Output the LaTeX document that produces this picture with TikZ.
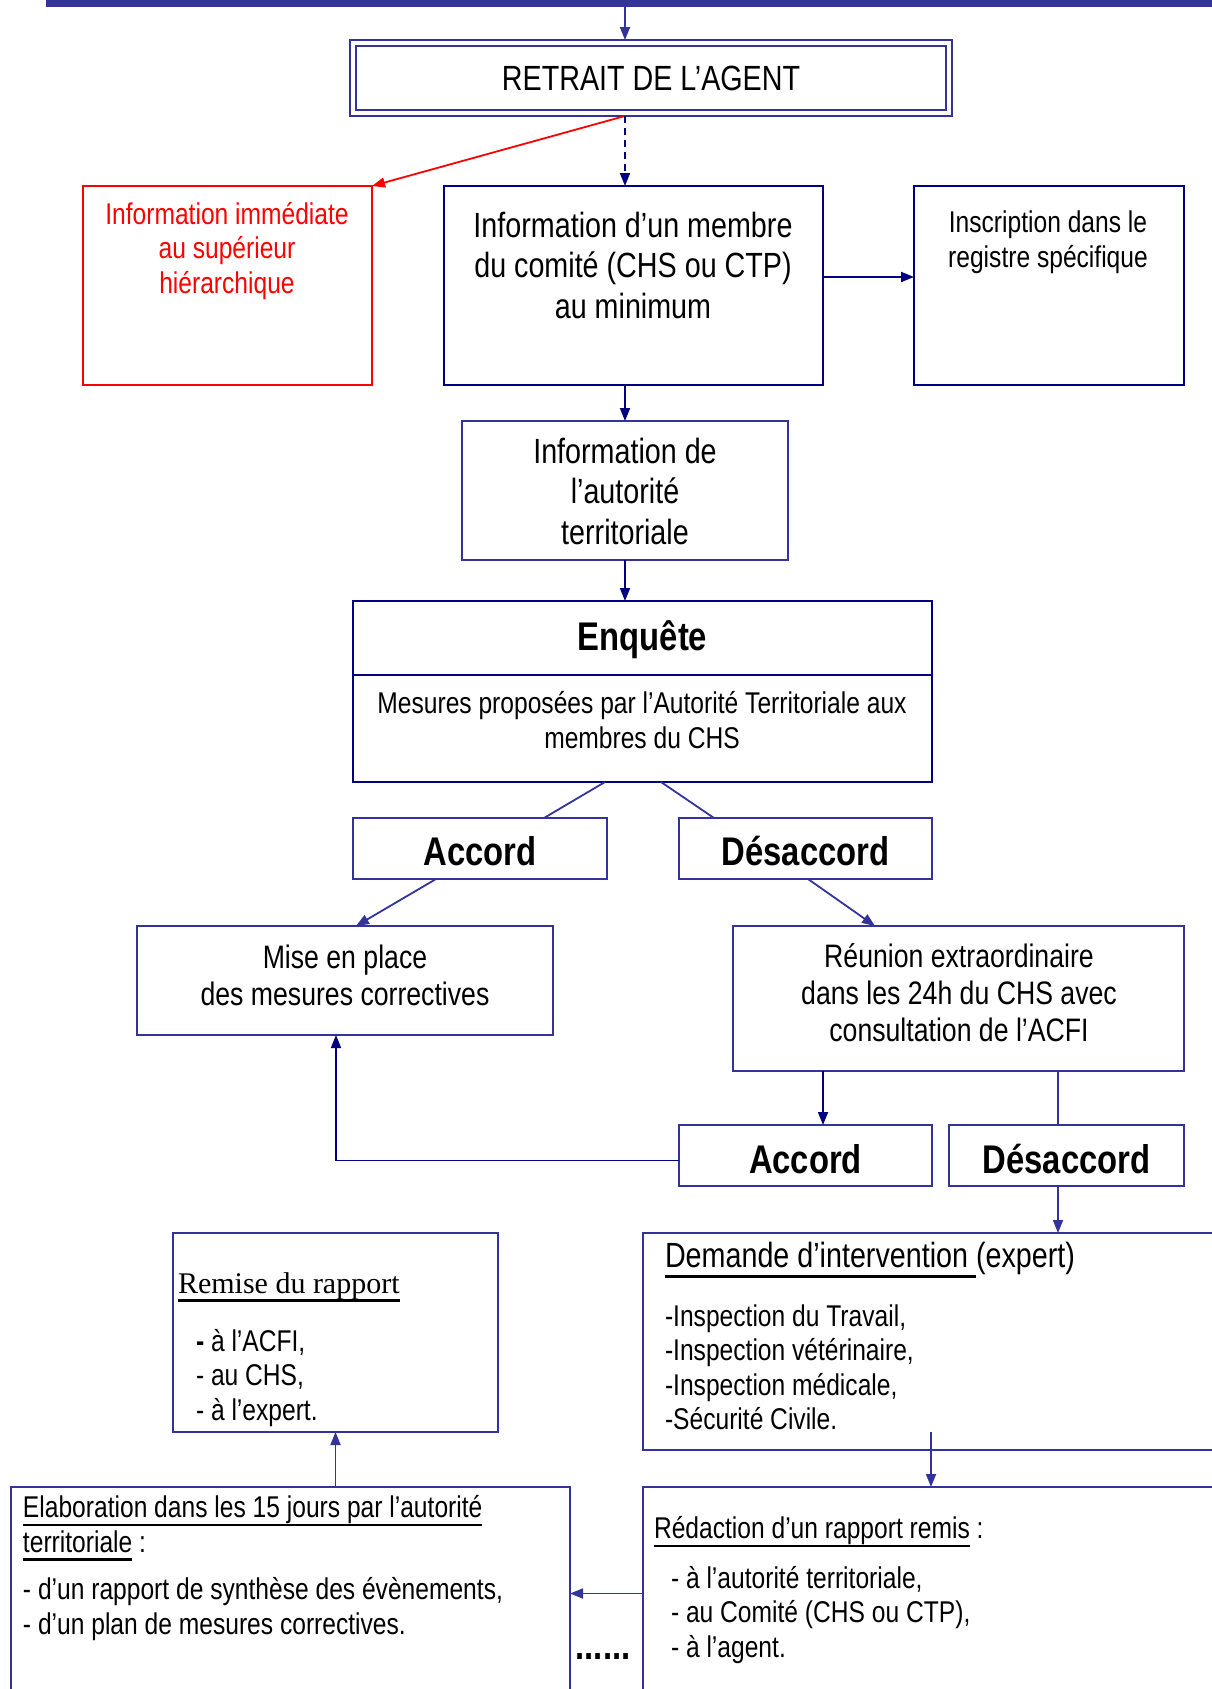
\documentclass[tikz,border=0pt]{standalone}
\usepackage{fontspec}
\setmainfont{Liberation Sans}[FakeStretch=0.82]
\newfontfamily\timesf{Liberation Serif}
\usetikzlibrary{arrows.meta,calc}
\definecolor{blueA}{RGB}{51,51,153}
\definecolor{blueB}{RGB}{0,0,128}
\definecolor{redA}{RGB}{255,0,0}
\newcommand\fsA{\fontsize{30}{34.5}\selectfont}
\newcommand\fsB{\fontsize{35}{40.5}\selectfont}
\newcommand\fsC{\fontsize{32.5}{37}\selectfont}
\newcommand\fsD{\fontsize{40}{46}\selectfont\bfseries}
\newcommand\fsT{\timesf\fontsize{30}{34.5}\selectfont}
\newlength\ulwd
\newcommand\myul[1]{\settowidth\ulwd{#1}\rlap{\rule[-0.28em]{\ulwd}{0.075em}}#1}
\begin{document}
\begin{tikzpicture}[x=1pt,y=-1pt,
  box/.style={draw=blueA,line width=2pt,inner sep=0pt,outer sep=0pt,rectangle},
  boxB/.style={box,draw=blueB},
  boxR/.style={box,draw=redA},
  txt/.style={inner sep=0pt,outer sep=0pt,align=center},
  ltxt/.style={inner sep=0pt,outer sep=0pt,align=left,anchor=west},
  tip/.style={-{Triangle[length=13pt,width=10pt]}},
  conA/.style={draw=blueA,line width=1.8pt},
  conB/.style={draw=blueB,line width=1.8pt},
  arrA/.style={conA,tip},
  arrB/.style={conB,tip}
]
\useasboundingbox (0,0) rectangle (1212,1689);
% top bar
\node[fill=blueA,inner sep=0pt,outer sep=0pt,minimum width=1166pt,minimum height=7pt] (bar) at (629,3.5) {};
\coordinate (ax) at (625,0);
% retrait
\node[box,line width=2.5pt,minimum width=602pt,minimum height=76pt] (retrait) at (651,78) {};
\node[box,line width=1.5pt,minimum width=590pt,minimum height=64pt,font=\fsB] (retraitin) at (651,78) {RETRAIT DE L’AGENT};
% row 2
\node[boxR,minimum width=289pt,minimum height=199pt] (red) at (227.5,285.5) {};
\node[txt,text=redA,font=\fsA] (tred) at (227,251) {Information immédiate\\au supérieur\\hiérarchique};
\node[boxB,minimum width=379pt,minimum height=199pt] (cbox) at (633.5,285.5) {};
\node[txt,font=\fsB] (tcbox) at (633,265) {Information d’un membre\\du comité (CHS ou CTP)\\au minimum};
\node[boxB,minimum width=270pt,minimum height=199pt] (inscr) at (1049,285.5) {};
\node[txt,font=\fsA] (tinscr) at (1048,242) {Inscription dans le\\registre spécifique};
% info autorite
\node[box,minimum width=326pt,minimum height=139pt] (info) at (625,490.5) {};
\node[txt,font=\fsB] (tinfo) at (625,491) {Information de\\l’autorité\\territoriale};
% enquete
\node[boxB,minimum width=579pt,minimum height=74pt] (enqT) at (642.5,638) {};
\node[txt,font=\fsD] (tenqT) at (642.5,640) {Enquête};
\node[boxB,minimum width=579pt,minimum height=107pt] (enqB) at (642.5,728.5) {};
\node[txt,font=\fsA] (tenq) at (642,720) {Mesures proposées par l’Autorité Territoriale aux\\membres du CHS};
% accord / desaccord 1
\node[box,minimum width=254pt,minimum height=61pt] (acc1) at (480,848.5) {};
\node[txt,font=\fsD] (tacc1) at (480,851) {Accord};
\node[box,minimum width=253pt,minimum height=61pt] (des1) at (805.5,848.5) {};
\node[txt,font=\fsD] (tdes1) at (805.5,851) {Désaccord};
% mise / reunion
\node[box,minimum width=416pt,minimum height=109pt] (mise) at (345,980.5) {};
\node[txt,font=\fsC] (tmise) at (345,975) {Mise en place\\des mesures correctives};
\node[box,minimum width=451pt,minimum height=145pt] (reun) at (958.5,998.5) {};
\node[txt,font=\fsC] (treun) at (959,993) {Réunion extraordinaire\\dans les 24h du CHS avec\\consultation de l’ACFI};
% accord / desaccord 2
\node[box,minimum width=253pt,minimum height=61pt] (acc2) at (805.5,1155.5) {};
\node[txt,font=\fsD] (tacc2) at (805.5,1159) {Accord};
\node[box,minimum width=235pt,minimum height=61pt] (des2) at (1066.5,1155.5) {};
\node[txt,font=\fsD] (tdes2) at (1066.5,1159) {Désaccord};
% remise
\node[box,minimum width=325pt,minimum height=199pt] (remise) at (335.5,1332.5) {};
\node[ltxt,font=\fsT] (trem1) at (178,1287) {\myul{Remise du rapport}};
\node[ltxt,font=\fsA] (trem2) at (196,1378) {\textbf{-} à l’ACFI,\\- au CHS,\\- à l’expert.};
% demande
\node[box,minimum width=582pt,minimum height=217pt] (dem) at (934,1341.5) {};
\node[ltxt,font=\fsB] (tdem1) at (665,1260) {\myul{Demande d’intervention }(expert)};
\node[ltxt,font=\fsA,text depth=0pt] (tdem2) at (665,1367) {\fontsize{30}{35.2}\selectfont -Inspection du Travail,\\-Inspection vétérinaire,\\-Inspection médicale,\\-Sécurité Civile.};
% elaboration
\node[box,minimum width=559pt,minimum height=213pt] (elab) at (290.5,1593.5) {};
\node[ltxt,font=\fsA] (tel1) at (23,1528) {\myul{Elaboration dans les 15 jours par l’autorité}\\\myul{territoriale} :};
\node[ltxt,font=\fsA] (tel2) at (23,1609) {- d’un rapport de synthèse des évènements,\\- d’un plan de mesures correctives.};
% redaction
\node[box,minimum width=582pt,minimum height=213pt] (redac) at (934,1593.5) {};
\node[ltxt,font=\fsA] (tred1) at (654,1532) {\myul{Rédaction d’un rapport remis} :};
\node[ltxt,font=\fsA] (tred2) at (671,1615) {- à l’autorité territoriale,\\- au Comité (CHS ou CTP),\\- à l’agent.};
\node[txt,font=\fontsize{40}{46}\selectfont\bfseries] (dots) at (603,1657) {......};
% connectors
\draw[arrA] (ax |- bar.south) -- (ax |- retrait.north);
\draw[line width=1.8pt,draw=redA,tip] (ax |- retrait.south) -- (red.north east);
\draw[arrB,dashed,dash pattern=on 7pt off 5pt] (ax |- retrait.south) -- (ax |- cbox.north);
\coordinate (r1) at (0,277);
\draw[arrB] (cbox.east |- r1) -- (inscr.west |- r1);
\draw[arrB] (info.north |- cbox.south) -- (info.north);
\draw[arrB] (info.south) -- (info.south |- enqT.north);
\draw[conA] ([xshift=-37.5pt]enqB.south) -- ([xshift=64pt]acc1.north);
\draw[conA] ([xshift=18.5pt]enqB.south) -- ([xshift=-91.5pt]des1.north);
\draw[arrA] ([xshift=-44pt]acc1.south) -- ([xshift=11pt]mise.north);
\draw[arrA] ([xshift=2.5pt]des1.south) -- ([xshift=-83.5pt]reun.north);
\draw[arrB] ([xshift=17.5pt]acc2.north |- reun.south) -- ([xshift=17.5pt]acc2.north);
\draw[conA] ([xshift=-8.5pt]des2.north |- reun.south) -- ([xshift=-8.5pt]des2.north);
\draw[arrB] ([yshift=-5pt]acc2.west) -| ([xshift=-9pt]mise.south);
\draw[arrA] ([xshift=-8.5pt]des2.south) -- ([xshift=-8.5pt]des2.south |- dem.north);
\draw[arrA] (remise.south |- elab.north) -- (remise.south);
\draw[arrA] ([xshift=-3pt,yshift=18pt]dem.south) -- ([xshift=-3pt]redac.north);
\draw[arrA] (redac.west) -- (elab.east);
\end{tikzpicture}
\end{document}
